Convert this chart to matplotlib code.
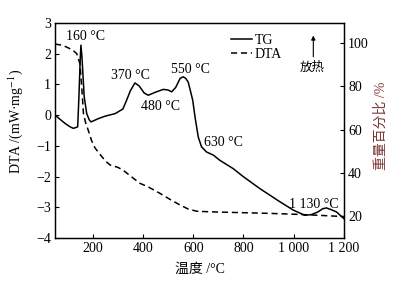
import matplotlib
matplotlib.use('Agg')
import matplotlib.pyplot as plt
import numpy as np

plt.rcParams['font.family'] = ['Liberation Serif', 'Noto Sans CJK SC', 'DejaVu Sans']
plt.rcParams['mathtext.fontset'] = 'stix'
plt.rcParams['font.size'] = 10

# DTA curve (solid, left axis)
dta_t = [50, 90, 110, 123, 140, 145, 150, 153, 157, 166, 176, 186, 193, 220, 250, 289,
         320, 335, 350, 368, 385, 405, 421, 450, 481, 500, 514, 530, 548, 560, 570, 580,
         598, 607, 620, 633, 653, 680, 706, 759, 799, 865, 945, 998, 1044, 1070, 1097,
         1115, 1130, 1150, 1170, 1200]
dta_v = [0.0, -0.27, -0.38, -0.43, -0.38, 0.6, 1.8, 2.28, 1.9, 0.6, 0.05, -0.15, -0.22,
         -0.12, -0.03, 0.05, 0.2, 0.49, 0.8, 1.05, 0.95, 0.72, 0.65, 0.75, 0.84, 0.82, 0.76,
         0.9, 1.2, 1.25, 1.2, 1.08, 0.49, -0.05, -0.71, -1.03, -1.2, -1.3, -1.47, -1.74,
         -2.0, -2.39, -2.82, -3.09, -3.26, -3.24, -3.15, -3.05, -3.02, -3.08, -3.15, -3.37]

# TG curve (dashed, right axis)
tg_t = [50, 80, 103, 120, 136, 149, 156, 163, 172, 182, 195, 209, 229, 250, 269, 300,
        321, 350, 388, 420, 467, 510, 547, 580, 613, 650, 700, 800, 900, 1000, 1100, 1200]
tg_w = [99.6, 99.0, 97.8, 96.8, 95.2, 90.5, 80.0, 67.4, 63.0, 59.7, 55.0, 51.5, 48.5,
        45.5, 43.6, 42.5, 41.2, 38.5, 35.1, 33.5, 30.5, 27.5, 25.1, 23.2, 22.2, 22.0,
        21.8, 21.5, 21.2, 20.8, 20.3, 19.7]

xticks = [200, 400, 600, 800, 1000, 1200]
xtick_labels = ['200', '400', '600', '800', '1 000', '1 200']
left_ticks = [-4, -3, -2, -1, 0, 1, 2, 3]
right_ticks = [20, 40, 60, 80, 100]

peak_labels = ['160 °C', '370 °C', '480 °C', '550 °C', '630 °C', '1 130 °C']
peak_pos = [(173, 2.57), (352, 1.3), (471, 0.29), (587, 1.5), (722, -0.88), (1080, -2.9)]

fig = plt.figure(figsize=(3.99, 2.85), dpi=100)
ax = fig.add_axes([0.138, 0.165, 0.724, 0.754])
ax2 = ax.twinx()

l1, = ax.plot(dta_t, dta_v, color='black', lw=1.1, label='TG')
l2, = ax2.plot(tg_t, tg_w, color='black', lw=1.1, ls=(0, (4, 2.5)), label='DTA')

ax.set_xlim(50, 1200)
ax.set_ylim(-4, 3)
ax2.set_ylim(9.8, 109.3)

ax.set_xticks(xticks)
ax.set_xticklabels(xtick_labels)
ax.set_yticks(left_ticks)
ax.set_yticklabels([str(t).replace('-', '\u2212') for t in left_ticks])
ax2.set_yticks(right_ticks)
ax.tick_params(direction='in', length=3, width=0.8, pad=3)
ax2.tick_params(direction='in', length=3, width=0.8, pad=3)
for sp in list(ax.spines.values()) + list(ax2.spines.values()):
    sp.set_linewidth(0.9)

ax.set_xlabel('温度 /°C')
ax.xaxis.set_label_coords(0.5, -0.115)
ax.set_ylabel('DTA /(mW·mg$^{-1}$)')
ax.yaxis.set_label_coords(-0.105, 0.54)
ax2.set_ylabel('重量百分比 /%', color='#7a3535')
ax2.yaxis.set_label_coords(1.107, 0.52)

for txt, (px, py) in zip(peak_labels, peak_pos):
    ax.text(px, py, txt, ha='center', va='center')

ax.annotate('', xy=(0.894, 0.955), xytext=(0.894, 0.83), xycoords='axes fraction',
            arrowprops=dict(arrowstyle='-|>', color='black', lw=0.8, mutation_scale=6))
ax.text(0.89, 0.79, '放热', transform=ax.transAxes, ha='center', va='center', fontsize=9)

ax.legend([l1, l2], ['TG', 'DTA'], loc='upper left', bbox_to_anchor=(0.58, 0.99),
          frameon=False, handlelength=1.5, handletextpad=0.2, labelspacing=0.1,
          borderaxespad=0.2)

fig.savefig('out.png', dpi=100)
